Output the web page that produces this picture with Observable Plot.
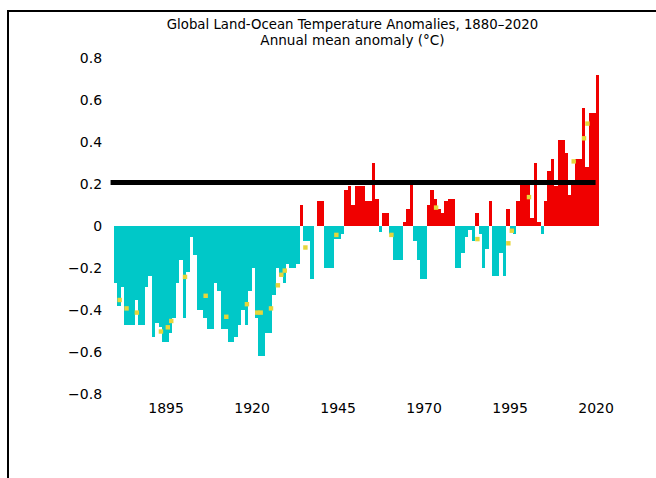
<!DOCTYPE html>
<html><head><meta charset="utf-8">
<script src="https://cdn.jsdelivr.net/npm/d3@7"></script>
<script src="https://cdn.jsdelivr.net/npm/@observablehq/plot@0.6"></script>
<style>
html,body{margin:0;padding:0;background:#fff;overflow:hidden;width:656px;height:478px;}
#box{position:absolute;left:7px;top:10px;width:720px;height:540px;border-left:2px solid #000;border-top:2px solid #000;}
.t{position:absolute;left:0;width:705px;text-align:center;font-family:"DejaVu Sans",sans-serif;color:#000;white-space:nowrap;}
#t1{top:17px;line-height:16px;font-size:13.3px;}
#t2{top:32px;line-height:16px;font-size:13.6px;}
#chart{position:absolute;left:0;top:48px;}
</style></head><body>
<div id="box"></div>
<div class="t" id="t1">Global Land-Ocean Temperature Anomalies, 1880–2020</div>
<div class="t" id="t2">Annual mean anomaly (°C)</div>
<div id="chart"></div>
<script>
const firstYear = 1880;
const anomalies = [
  -0.27, -0.38, -0.29, -0.47, -0.47, -0.47, -0.35, -0.47, -0.47, -0.29,
  -0.24, -0.53, -0.46, -0.48, -0.55, -0.55, -0.51, -0.44, -0.27, -0.16,
  -0.44, -0.22, -0.05, -0.14, -0.40, -0.40, -0.44, -0.49, -0.49, -0.27,
  -0.31, -0.49, -0.49, -0.55, -0.55, -0.53, -0.47, -0.40, -0.47, -0.31,
  -0.20, -0.44, -0.62, -0.62, -0.51, -0.51, -0.33, -0.20, -0.24, -0.27,
  -0.18, -0.20, -0.20, -0.18, 0.10, -0.07, -0.07, -0.25, 0.00, 0.12,
  0.12, -0.20, -0.20, -0.20, -0.06, -0.06, -0.04, 0.17, 0.19, 0.10,
  0.19, 0.19, 0.19, 0.12, 0.12, 0.30, 0.13, -0.03, 0.06, 0.06,
  -0.04, -0.16, -0.16, -0.16, 0.02, 0.08, 0.21, -0.07, -0.16, -0.25,
  -0.25, 0.10, 0.17, 0.13, 0.08, 0.06, 0.12, 0.13, 0.13, -0.20,
  -0.20, -0.13, -0.05, -0.02, -0.07, 0.06, -0.04, -0.20, -0.11, 0.12,
  -0.24, -0.24, -0.13, -0.24, 0.08, -0.02, -0.04, 0.12, 0.21, 0.21,
  0.21, 0.04, 0.30, 0.02, -0.04, 0.12, 0.26, 0.32, 0.19, 0.41,
  0.41, 0.35, 0.15, 0.21, 0.32, 0.32, 0.56, 0.28, 0.54, 0.54, 0.72
];
const markerYears = [1881, 1883, 1886, 1893, 1895, 1896, 1900, 1906, 1912, 1918, 1921, 1922, 1925, 1927, 1928, 1929, 1935, 1944, 1960, 1973, 1985, 1994, 1995, 2000, 2013, 2016, 2017];
const markerValues = [-0.35, -0.39, -0.41, -0.50, -0.48, -0.45, -0.24, -0.33, -0.43, -0.37, -0.41, -0.41, -0.39, -0.28, -0.23, -0.21, -0.10, -0.04, -0.04, 0.09, -0.06, -0.08, -0.02, 0.14, 0.31, 0.42, 0.49];
const referenceValue = [0.21];
const xTicks = [1895, 1920, 1945, 1970, 1995, 2020];
const yTicks = [-0.8, -0.6, -0.4, -0.2, 0, 0.2, 0.4, 0.6, 0.8];

const warm = "#f00000", cool = "#00c8c8", marker = "#e6d63a";
const years = anomalies.map((_, i) => firstYear + i);
const lastYear = years[years.length - 1];
const bars = years.map((year, i) => ({year, value: anomalies[i]}));
const markers = markerYears.map((year, i) => ({year, value: markerValues[i]}));

const chart = Plot.plot({
  width: 656,
  height: 420,
  marginLeft: 110.56,
  marginRight: 57,
  marginTop: 10,
  marginBottom: 74,
  style: {fontFamily: "DejaVu Sans, sans-serif", fontSize: "14px", background: "transparent", color: "#000"},
  x: {domain: [firstYear - 1, lastYear + 1], ticks: xTicks, tickFormat: d => String(d), tickSize: 0, tickPadding: 9, label: null},
  y: {domain: [-0.8, 0.8], ticks: yTicks, tickSize: 0, tickPadding: 9, label: null,
      tickFormat: d => d === 0 ? "0" : d.toFixed(1).replace("-", "\u2212")},
  marks: [
    Plot.rectY(bars.filter(d => d.value < 0), {x1: "year", x2: d => d.year + 1, y1: 0, y2: "value", fill: cool, shapeRendering: "crispEdges"}),
    Plot.rectY(bars.filter(d => d.value > 0), {x1: "year", x2: d => d.year + 1, y1: 0, y2: "value", fill: warm, shapeRendering: "crispEdges"}),
    Plot.ruleY(referenceValue, {x1: firstYear - 1, x2: lastYear, stroke: "#000", strokeWidth: 5}),
    Plot.dot(markers, {x: d => d.year + 0.5, y: "value", symbol: "square", r: 2.5, fill: marker, stroke: "none"})
  ]
});
document.getElementById("chart").appendChild(chart);
</script>
</body></html>
